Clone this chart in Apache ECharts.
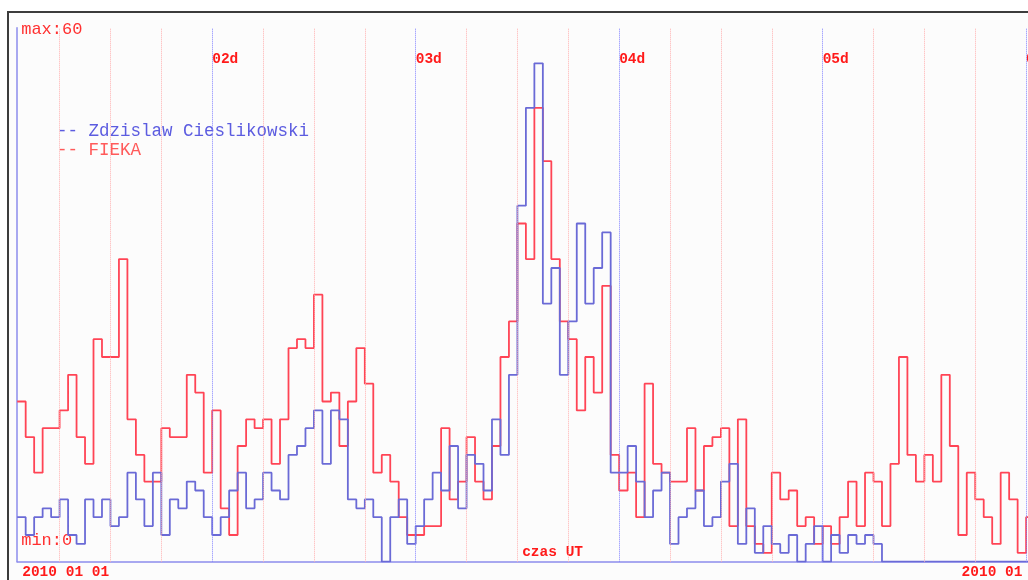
<!DOCTYPE html>
<html>
<head>
<meta charset="utf-8">
<script src="https://cdn.jsdelivr.net/npm/echarts@6/dist/echarts.min.js"></script>
<style>
  html, body { margin: 0; padding: 0; background: #fff; }
  #chart { width: 1028px; height: 580px; }
</style>
</head>
<body>
<div id="chart"></div>
<script>
// hourly counts, first value = hour 1 of 2010-01-01
const startHour = 1;
const seriesNames = ['Zdzislaw Cieslikowski', 'FIEKA'];
const blueValues = [
  5, 3, 5, 6, 5, 7, 3, 2, 7, 5, 7, 4, 5, 10, 7, 4, 10, 3, 7, 6, 9, 8, 5, 3,
  5, 8, 10, 6, 7, 10, 8, 7, 12, 13, 15, 17, 11, 17, 16, 7, 6, 7, 5, 0, 5, 7, 2, 4,
  7, 10, 8, 13, 6, 12, 11, 8, 16, 12, 21, 40, 51, 56, 29, 33, 21, 27, 38, 29, 33, 37, 10, 10,
  13, 9, 5, 8, 10, 2, 5, 6, 8, 4, 5, 9, 11, 2, 6, 1, 4, 2, 1, 3, 0, 2, 4, 0,
  3, 1, 3, 2, 3, 2, 0, 0, 0, 0, 0, 0, 0, 0, 0, 0, 0, 0, 0, 0, 0, 0, 0, 0
];
const redValues = [
  18, 14, 10, 15, 15, 17, 21, 14, 11, 25, 23, 23, 34, 16, 12, 9, 9, 15, 14, 14, 21, 19, 10, 17,
  6, 3, 13, 16, 15, 16, 11, 16, 24, 25, 24, 30, 18, 19, 13, 18, 24, 20, 10, 12, 9, 5, 3, 3,
  4, 4, 15, 7, 9, 14, 9, 7, 13, 23, 27, 38, 34, 51, 45, 34, 27, 25, 17, 23, 19, 31, 12, 8,
  10, 5, 20, 11, 10, 9, 9, 15, 8, 13, 14, 15, 4, 16, 4, 2, 1, 10, 7, 8, 4, 5, 2, 4,
  2, 5, 9, 4, 10, 9, 4, 11, 23, 12, 9, 12, 9, 21, 13, 3, 10, 7, 5, 2, 10, 7, 1, 5
];
const dayHours = [24, 48, 72, 96, 120];
const dayLabels = ['02d', '03d', '04d', '05d', '06d'];
const quarterHours = [6, 12, 18, 30, 36, 42, 54, 60, 66, 78, 84, 90, 102, 108, 114, 126];
const dateLabelHours = [1, 111.8];
const dateLabels = ['2010 01 01', '2010 01 06'];
const yMin = 0;
const yMax = 60;
const xMin = 1;
const xMax = 127.3;

const mono = 'Liberation Mono';

function toSteps(values) {
  const pts = values.map((v, i) => [startHour + i, v]);
  pts.push([startHour + values.length, values[values.length - 1]]);
  return pts;
}

const chart = echarts.init(document.getElementById('chart'), null, { renderer: 'canvas' });

var option = {
  animation: false,
  backgroundColor: '#ffffff',
  graphic: [{
    type: 'rect',
    z: -1,
    silent: true,
    shape: { x: 8, y: 12, width: 1200, height: 700 },
    style: { fill: '#fcfcfc', stroke: '#3c3c3c', lineWidth: 2 }
  }],
  grid: {
    left: 17.2,
    right: -60,
    top: 27.7,
    bottom: 18.3,
    containLabel: false,
    outerBoundsMode: 'none'
  },
  legend: {
    orient: 'vertical',
    left: 47,
    top: 117,
    itemWidth: 0,
    itemHeight: 19,
    itemGap: 0,
    icon: 'rect',
    selectedMode: false,
    formatter: name => '-- ' + name,
    textStyle: { fontFamily: mono, fontSize: 17.5 },
    data: [
      { name: seriesNames[0], textStyle: { color: '#5c5ce0' } },
      { name: seriesNames[1], textStyle: { color: '#ff5a5a' } }
    ]
  },
  xAxis: [{
    type: 'value',
    min: xMin,
    max: xMax,
    name: 'czas UT',
    nameLocation: 'middle',
    nameGap: -17,
    nameMoveOverlap: false,
    nameTextStyle: { color: '#ff1a1a', fontFamily: mono, fontWeight: 'bold', fontSize: 14.5 },
    axisLine: { show: true, lineStyle: { color: '#8c8cec', width: 1.5 } },
    axisTick: { show: false },
    splitLine: { show: false },
    axisLabel: {
      customValues: dateLabelHours,
      align: 'left',
      margin: 3,
      padding: [0, 0, 0, 5],
      color: '#ff1a1a',
      fontFamily: mono,
      fontWeight: 'bold',
      fontSize: 14.5,
      formatter: v => dateLabels[dateLabelHours.indexOf(v)]
    }
  }, {
    type: 'value',
    position: 'top',
    min: xMin,
    max: xMax,
    axisLine: { show: false },
    axisTick: { show: false },
    splitLine: { show: false },
    axisLabel: {
      customValues: dayHours,
      inside: true,
      align: 'left',
      margin: 24,
      color: '#ff1a1a',
      fontFamily: mono,
      fontWeight: 'bold',
      fontSize: 14.5,
      formatter: v => dayLabels[dayHours.indexOf(v)]
    }
  }],
  yAxis: {
    type: 'value',
    min: yMin,
    max: yMax,
    axisLine: { show: true, lineStyle: { color: '#8c8cec', width: 1.5 } },
    axisTick: { show: false },
    splitLine: { show: false },
    axisLabel: {
      customValues: [yMin, yMax],
      inside: true,
      margin: 4,
      verticalAlign: 'middle',
      formatter: v => v === yMax ? '{top|max:' + v + '}' : '{bot|min:' + v + '}',
      rich: {
        top: { color: '#ff3030', fontFamily: mono, fontSize: 17, padding: [4, 0, 0, 0] },
        bot: { color: '#ff3030', fontFamily: mono, fontSize: 17, padding: [0, 0, 42, 0] }
      }
    }
  },
  series: [{
    name: seriesNames[0],
    type: 'line',
    step: 'end',
    showSymbol: false,
    data: toSteps(blueValues),
    lineStyle: { color: '#6a6ad6', width: 1.8 },
    itemStyle: { color: '#6a6ad6' },
    z: 3,
    markLine: {
      silent: true,
      symbol: ['none', 'none'],
      label: { show: false },
      lineStyle: { color: '#8080ff', type: 'dotted', width: 1 },
      data: dayHours.map(h => ({ xAxis: h }))
    }
  }, {
    name: seriesNames[1],
    type: 'line',
    step: 'end',
    showSymbol: false,
    data: toSteps(redValues),
    lineStyle: { color: '#ff4455', width: 1.8 },
    itemStyle: { color: '#ff4455' },
    z: 2,
    markLine: {
      silent: true,
      symbol: ['none', 'none'],
      label: { show: false },
      lineStyle: { color: '#ffb0b0', type: 'dotted', width: 1 },
      data: quarterHours.map(h => ({ xAxis: h }))
    }
  }]
};
chart.setOption(option);
</script>
</body>
</html>
